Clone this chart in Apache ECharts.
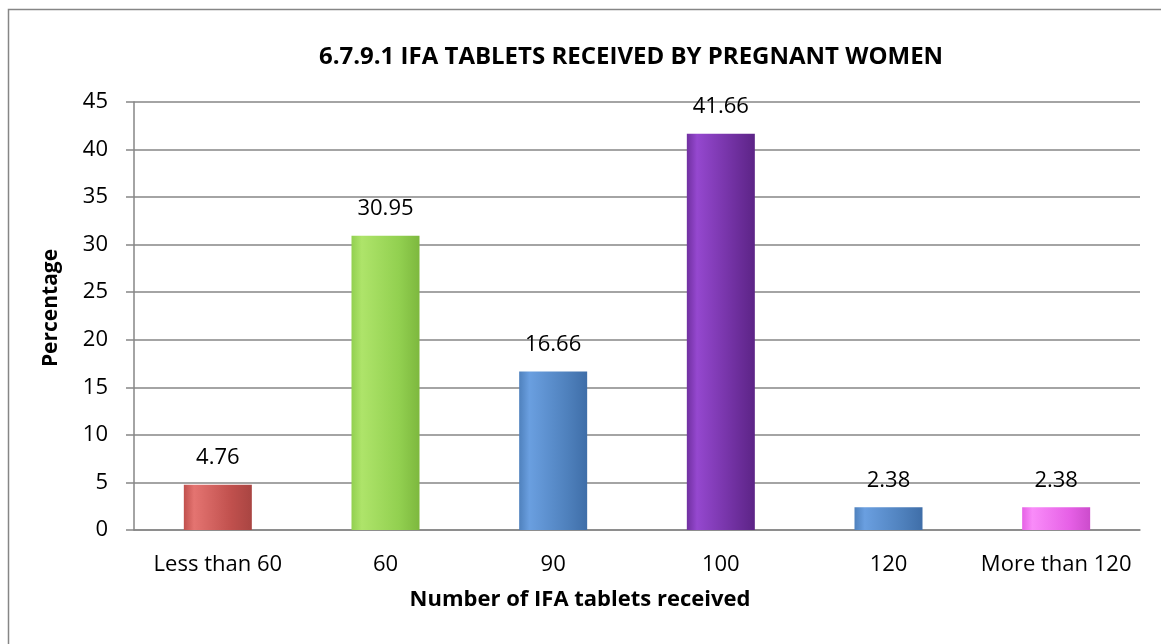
<!DOCTYPE html>
<html>
<head>
<meta charset="utf-8">
<script src="https://cdn.jsdelivr.net/npm/echarts@6/dist/echarts.min.js"></script>
<style>
html,body{margin:0;padding:0;background:#fff;}
#chart{width:1161px;height:644px;}
</style>
</head>
<body>
<div id="chart"></div>
<script>
const categories = ['Less than 60', '60', '90', '100', '120', 'More than 120'];
const values = [4.76, 30.95, 16.66, 41.66, 2.38, 2.38];
const valueLabels = ['4.76', '30.95', '16.66', '41.66', '2.38', '2.38'];
const barColors = [
  ['#e47471', '#c0504d', '#a94542'],
  ['#aee46a', '#92d050', '#7db83e'],
  ['#6a9fe0', '#4f81bd', '#3f6ea8'],
  ['#9548cf', '#7030a0', '#5c2486'],
  ['#6a9fe0', '#4f81bd', '#3f6ea8'],
  ['#f98cf9', '#e660e6', '#cc4ccc']
];
const titleText = '6.7.9.1 IFA TABLETS RECEIVED BY PREGNANT WOMEN';
const xAxisName = 'Number of IFA tablets received';
const yAxisName = 'Percentage';

const FONT = 'Open Sans';
const chart = echarts.init(document.getElementById('chart'), null, {renderer: 'canvas'});

const data = values.map((v, i) => ({
  value: v,
  itemStyle: {
    color: new echarts.graphic.LinearGradient(0, 0, 1, 0, [
      {offset: 0, color: barColors[i][1]},
      {offset: 0.15, color: barColors[i][0]},
      {offset: 0.7, color: barColors[i][1]},
      {offset: 1, color: barColors[i][2]}
    ])
  },
  label: {formatter: valueLabels[i]}
}));

chart.setOption({
  animation: false,
  backgroundColor: '#fff',
  title: {
    text: titleText,
    left: 626,
    top: 40,
    textAlign: 'center',
    textStyle: {fontFamily: FONT, fontSize: 24, fontWeight: 'bold', color: '#000'}
  },
  graphic: [{
    type: 'rect',
    shape: {x: 8.5, y: 9.5, width: 1200, height: 700},
    style: {fill: 'none', stroke: '#868686', lineWidth: 1.5},
    silent: true
  }, {
    type: 'text',
    x: 580,
    y: 600,
    style: {
      text: xAxisName,
      align: 'center',
      verticalAlign: 'middle',
      font: 'bold 22px "Open Sans"',
      fill: '#000'
    },
    silent: true
  }],
  grid: {left: 134, right: 21, top: 102, bottom: 114},
  xAxis: {
    type: 'category',
    data: categories,
    axisLine: {lineStyle: {color: '#868686', width: 1.5}},
    axisTick: {show: false},
    axisLabel: {fontFamily: FONT, fontSize: 22, color: '#000', margin: 24, interval: 0, hideOverlap: false}
  },
  yAxis: {
    type: 'value',
    min: 0,
    max: 45,
    interval: 5,
    axisLine: {show: true, lineStyle: {color: '#868686', width: 1.5}},
    axisTick: {show: true, length: 8, lineStyle: {color: '#868686', width: 1.5}},
    axisLabel: {fontFamily: FONT, fontSize: 22, color: '#000', margin: 26},
    splitLine: {lineStyle: {color: '#868686', width: 1.5}},
    name: yAxisName,
    nameLocation: 'middle',
    nameGap: 72,
    nameTextStyle: {fontFamily: FONT, fontSize: 21, fontWeight: 'bold', color: '#000', padding: [0, 0, 0, 16]}
  },
  series: [{
    type: 'bar',
    data: data,
    barWidth: 68,
    label: {
      show: true,
      position: 'top',
      distance: 16,
      fontFamily: FONT,
      fontSize: 22,
      color: '#000'
    }
  }]
});
</script>
</body>
</html>
